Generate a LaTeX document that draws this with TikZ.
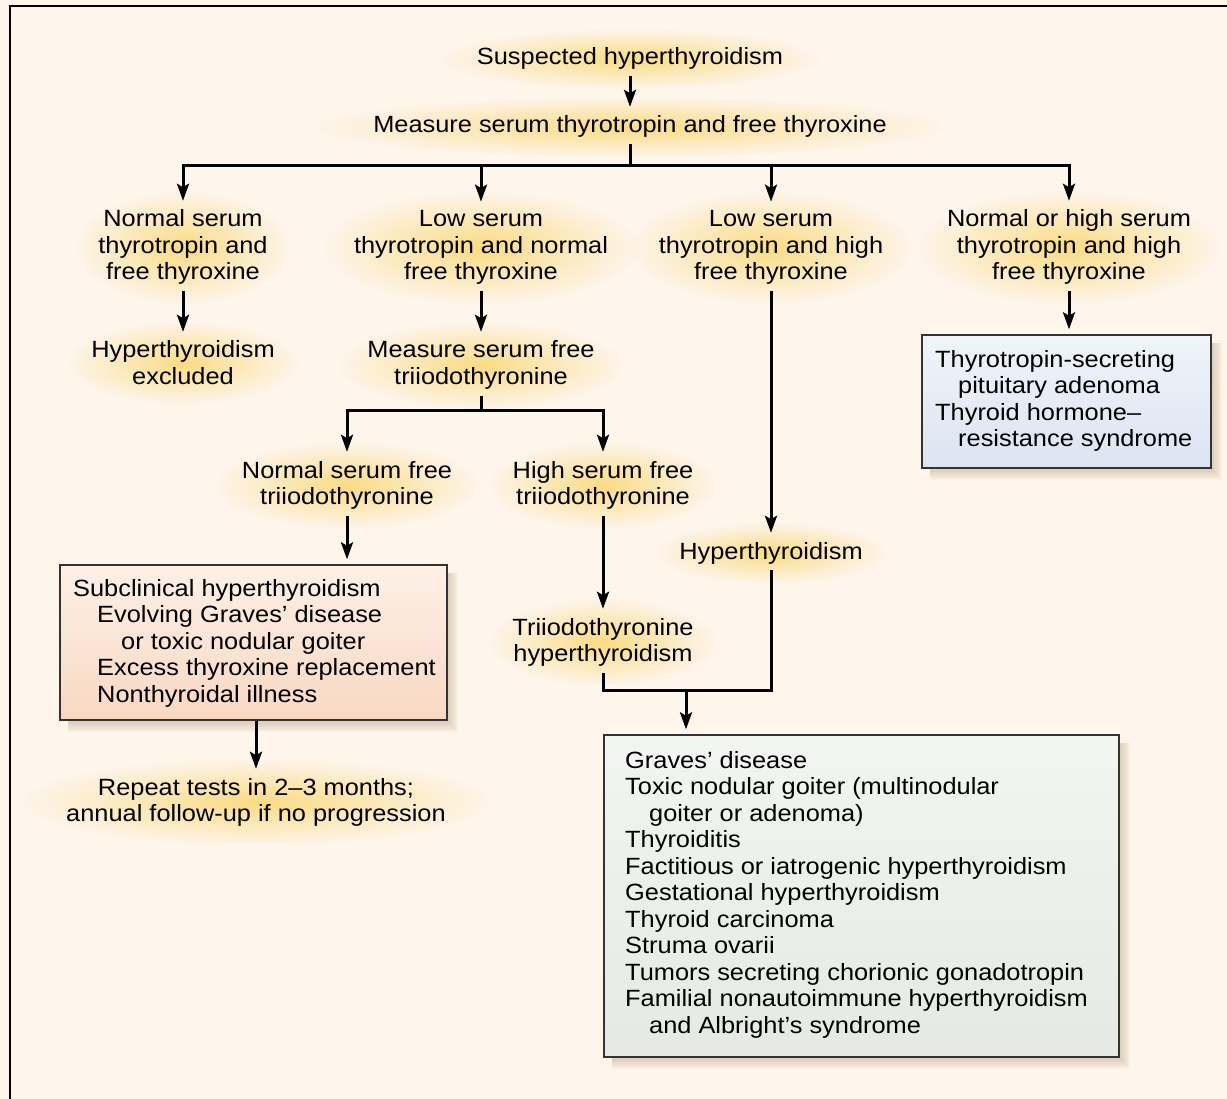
\documentclass[tikz,border=0pt]{standalone}
\usepackage{fontspec}
\setmainfont{Liberation Sans}[FakeStretch=1.08]
\usetikzlibrary{arrows.meta,calc,fadings}
\definecolor{bgc}{HTML}{FEF5EB}
\definecolor{glowc}{HTML}{FADC84}
\definecolor{shadc}{HTML}{B8A07E}
\definecolor{boxline}{HTML}{333333}
\definecolor{ortop}{HTML}{FEF0E6}
\definecolor{orbot}{HTML}{F8D8C3}
\definecolor{bltop}{HTML}{F0F4FA}
\definecolor{blbot}{HTML}{DCE4F1}
\definecolor{grtop}{HTML}{F2F5F1}
\definecolor{grbot}{HTML}{E4EAE3}
\tikzfading[name=glowfade, inner color=transparent!0, outer color=transparent!100]
\pgfdeclarelayer{bgl}
\pgfdeclarelayer{glowl}
\pgfsetlayers{bgl,glowl,main}
\newcommand\mkglow[1]{\path[fill=glowc, path fading=glowfade] let \p1=($(#1.north east)-(#1.south west)$) in (#1.center) ellipse [x radius={0.6*\x1}, y radius={0.5*\y1+13pt}];}
\newcommand\mkshadow[1]{\foreach \k in {0,...,5}{\fill[shadc, opacity=0.08] ($(#1.north west)+(9,9)$) rectangle ($(#1.south east)+(2+1.6*\k,3+1.6*\k)$);}}
\begin{document}
\begin{tikzpicture}[x=1pt,y=-1pt,
  txtfont/.style={font=\fontsize{23.5pt}{26.5pt}\selectfont},
  lbl/.style={txtfont, align=center, inner xsep=4pt, inner ysep=6pt, anchor=base},
  btxt/.style={txtfont, align=left, inner sep=0pt, anchor=base west},
  box/.style={draw=boxline, line width=1.4pt, inner sep=0pt},
  conn/.style={line width=3pt, draw=black},
  arr/.style={conn, -{Stealth[length=17pt, width=12pt, inset=3.5pt]}, shorten >=3pt},
  boxarr/.style={arr, shorten >=5pt}]
\useasboundingbox (0,0) rectangle (1227,1099);
\begin{pgfonlayer}{bgl}
  \fill[bgc] (0,0) rectangle (1227,1099);
\end{pgfonlayer}
\draw[line width=2.8pt] (10,1099) -- (10,6) -- (1227,6);

% text labels (anchor base = baseline of last line)
\node[lbl] (s) at (630,65) {Suspected hyperthyroidism};
\node[lbl] (m) at (630,133) {Measure serum thyrotropin and free thyroxine};
\node[lbl] (n1) at (183,280) {Normal serum\\thyrotropin and\\free thyroxine};
\node[lbl] (n2) at (481,280) {Low serum\\thyrotropin and normal\\free thyroxine};
\node[lbl] (n3) at (771,280) {Low serum\\thyrotropin and high\\free thyroxine};
\node[lbl] (n4) at (1069,280) {Normal or high serum\\thyrotropin and high\\free thyroxine};
\node[lbl] (he) at (183,384.5) {Hyperthyroidism\\excluded};
\node[lbl] (mf) at (481,384.5) {Measure serum free\\triiodothyronine};
\node[lbl] (nf) at (347,504.5) {Normal serum free\\triiodothyronine};
\node[lbl] (hf) at (603,504.5) {High serum free\\triiodothyronine};
\node[lbl] (hy) at (771,559) {Hyperthyroidism};
\node[lbl] (th) at (603,661.5) {Triiodothyronine\\hyperthyroidism};
\node[lbl] (rt) at (256,821.5) {Repeat tests in 2–3 months;\\annual follow-up if no progression};

% boxes
\node[box, top color=ortop, bottom color=orbot, minimum width=387pt, minimum height=155pt] (obx) at (253.5,642.5) {};
\node[box, top color=bltop, bottom color=blbot, minimum width=289pt, minimum height=133pt] (bbx) at (1066.5,401.5) {};
\node[box, top color=grtop, bottom color=grbot, minimum width=515pt, minimum height=322pt] (gbx) at (861.5,896) {};

\node[btxt] (otx) at (73,702) {Subclinical hyperthyroidism\\\hspace*{24pt}Evolving Graves’ disease\\\hspace*{48pt}or toxic nodular goiter\\\hspace*{24pt}Excess thyroxine replacement\\\hspace*{24pt}Nonthyroidal illness};
\node[btxt] (btx) at (935,446.5) {Thyrotropin-secreting\\\hspace*{23pt}pituitary adenoma\\Thyroid hormone–\\\hspace*{23pt}resistance syndrome};
\node[btxt] (gtx) at (625,1033) {Graves’ disease\\Toxic nodular goiter (multinodular\\\hspace*{24pt}goiter or adenoma)\\Thyroiditis\\Factitious or iatrogenic hyperthyroidism\\Gestational hyperthyroidism\\Thyroid carcinoma\\Struma ovarii\\Tumors secreting chorionic gonadotropin\\Familial nonautoimmune hyperthyroidism\\\hspace*{24pt}and Albright’s syndrome};

% glows and shadows
\begin{pgfonlayer}{glowl}
  \mkglow{s}\mkglow{m}\mkglow{n1}\mkglow{n2}\mkglow{n3}\mkglow{n4}
  \mkglow{he}\mkglow{mf}\mkglow{nf}\mkglow{hf}\mkglow{hy}\mkglow{th}\mkglow{rt}
  \mkshadow{obx}\mkshadow{bbx}\mkshadow{gbx}
\end{pgfonlayer}

% connectors
\draw[arr] (s.south) -- (m.north);
\coordinate (b1) at (630,166);
\draw[conn] (m.south) -- (b1);
\draw[arr] (b1) -| (n1.north);
\draw[arr] (b1) -| (n2.north);
\draw[arr] (b1) -| (n3.north);
\draw[arr] (b1) -| (n4.north);
\draw[arr] (n1) -- (he);
\draw[arr] (n2) -- (mf);
\coordinate (b2) at (481,411);
\draw[conn] (mf.south) -- (b2);
\draw[arr] (b2) -| (nf.north);
\draw[arr] (b2) -| (hf.north);
\draw[boxarr] (nf.south) -- (nf.south |- obx.north);
\draw[arr] (rt.north |- obx.south) -- (rt.north);
\draw[arr] (hf) -- (th);
\draw[arr] (n3) -- (hy);
\coordinate (j) at (686,690);
\draw[conn] (th.south) |- (j) -| (hy.south);
\draw[boxarr] (j) -- (j |- gbx.north);
\draw[boxarr] (n4.south) -- (n4.south |- bbx.north);
\end{tikzpicture}
\end{document}
